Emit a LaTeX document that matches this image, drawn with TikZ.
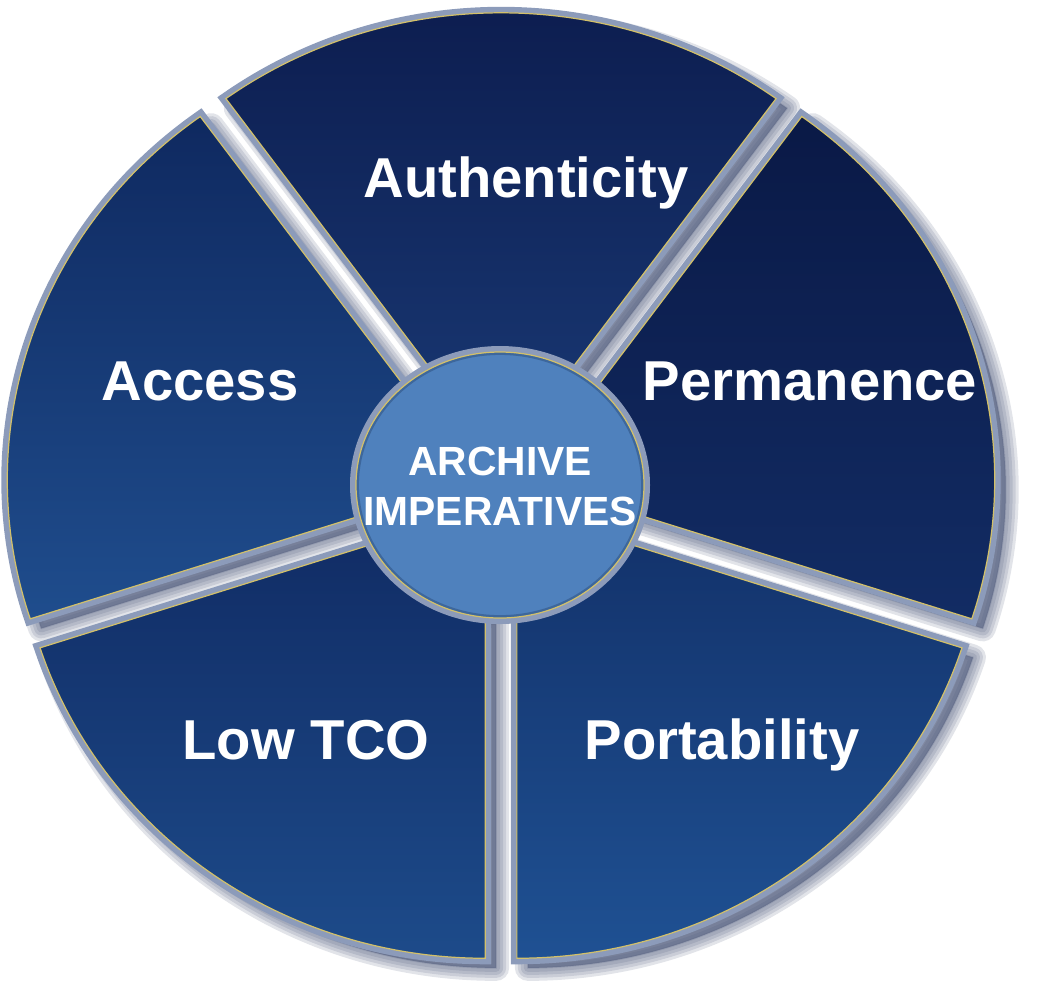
\documentclass[tikz,border=0pt]{standalone}
\usepackage{fontspec}
\setmainfont{Liberation Sans}
\definecolor{rimgray}{HTML}{8C9BBA}
\definecolor{rimgold}{HTML}{D2C06A}
\definecolor{shadowblue}{HTML}{4A5678}
\definecolor{hubblue}{HTML}{4F81BD}
\definecolor{hubedge}{HTML}{3D679C}
\definecolor{authdark}{HTML}{0C1C4E}
\definecolor{authlight}{HTML}{17346E}
\definecolor{permdark}{HTML}{0A1946}
\definecolor{permlight}{HTML}{122C64}
\definecolor{portdark}{HTML}{13336C}
\definecolor{portlight}{HTML}{1F5193}
\definecolor{tcodark}{HTML}{112D66}
\definecolor{tcolight}{HTML}{1D4B8A}
\definecolor{accessdark}{HTML}{0F2960}
\definecolor{accesslight}{HTML}{1F4D8D}

\begin{document}
\begin{tikzpicture}[
        sector/.style={
        preaction={draw=rimgray, line width=0.12cm},
        postaction={draw=rimgold, line width=0.35pt},
        shading angle=-45},
        shadowpiece/.style={
        fill=shadowblue, draw=shadowblue, opacity=0.16, line join=round},
        title/.style={
        text=white, anchor=base,
        font=\bfseries\fontsize{16}{19}\selectfont},
        hub/.style={
        text=white, align=center, inner sep=0pt,
        font=\bfseries\fontsize{11.6}{14.2}\selectfont},
        ]

        \useasboundingbox (-5.01,-5.01) rectangle (5.36,4.88);

        \foreach \mid in {90,18,-54,-126,162}{
            \foreach \blur in {0.26,0.2,0.14,0.08,0.02}{
                \path [shadowpiece, line width=\blur cm, yscale=0.96, shift={(\mid:0.27)}, shift={(0.11,-0.1)}]
                    ({\mid-36}:1.1) -- ({\mid-36}:4.68)
                    arc [start angle=\mid-36, end angle=\mid+36, radius=4.68]
                    -- ({\mid+36}:1.1)
                    arc [start angle=\mid+36, end angle=\mid-36, radius=1.1] -- cycle;
            }
        }

        \foreach \mid/\dark/\light in {90/authdark/authlight, 18/permdark/permlight, -54/portdark/portlight, -126/tcodark/tcolight, 162/accessdark/accesslight}{
            \path [sector, top color=\dark, bottom color=\light, yscale=0.96, shift={(\mid:0.27)}]
                ({\mid-36}:1.1) -- ({\mid-36}:4.68)
                arc [start angle=\mid-36, end angle=\mid+36, radius=4.68]
                -- ({\mid+36}:1.1)
                arc [start angle=\mid+36, end angle=\mid-36, radius=1.1] -- cycle;
        }

        \path [draw=rimgray, line width=0.1cm] (-0.01,0.03) ellipse [x radius=1.45, y radius=1.34];
        \path [fill=hubblue, draw=hubedge, line width=0.8pt] (-0.01,0.03) ellipse [x radius=1.425, y radius=1.315];
        \draw [rimgold, line width=0.35pt] (-0.01,0.03) ellipse [x radius=1.44, y radius=1.33];

        \node (auth) [title] at (0.25,2.91) {Authenticity};
        \node (perm) [title] at (3.09,0.88) {Permanence};
        \node (port) [title] at (2.21,-2.71) {Portability};
        \node (tco) [title] at (-1.95,-2.71) {Low TCO};
        \node (access) [title] at (-3.01,0.88) {Access};
        \node (hubtext) [hub] at (-0.01,0.02) {ARCHIVE\\IMPERATIVES};
    \end{tikzpicture}
\end{document}
